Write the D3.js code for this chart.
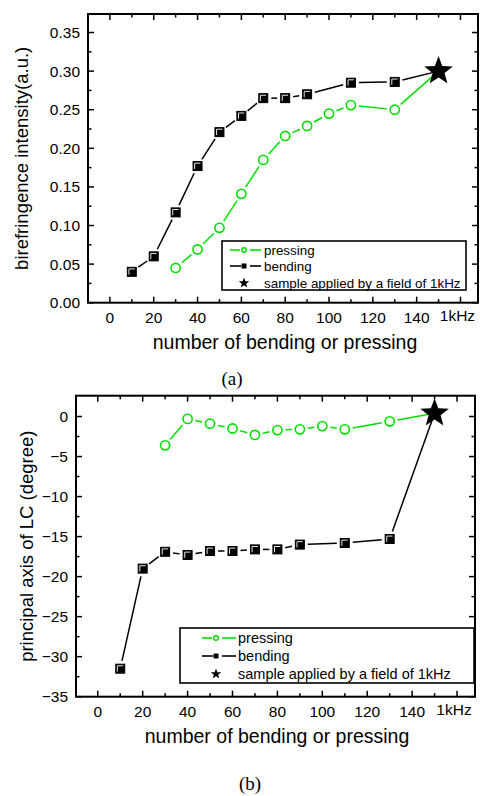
<!DOCTYPE html>
<html><head><meta charset="utf-8">
<script src="https://cdn.jsdelivr.net/npm/d3@7"></script>
<style>body{margin:0;background:#fff}svg{display:block}text{font-family:"Liberation Sans",Arial,sans-serif}</style>
</head><body>
<svg id="c" width="480" height="796"></svg>
<script>
// ---- data ----
const pressX_a = [30,40,50,60,70,80,90,100,110,130];
const pressY_a = [0.045,0.069,0.097,0.141,0.185,0.216,0.229,0.245,0.256,0.250];
const bendX_a  = [10,20,30,40,50,60,70,80,90,110,130];
const bendY_a  = [0.040,0.060,0.117,0.177,0.221,0.242,0.265,0.265,0.270,0.285,0.286];
const starX_a = 150, starY_a = 0.300;

const pressX_b = [30,40,50,60,70,80,90,100,110,130];
const pressY_b = [-3.6,-0.3,-0.9,-1.5,-2.3,-1.7,-1.6,-1.2,-1.6,-0.6];
const bendX_b  = [10,20,30,40,50,60,70,80,90,110,130];
const bendY_b  = [-31.5,-19.0,-16.9,-17.3,-16.8,-16.8,-16.6,-16.6,-16.0,-15.8,-15.3];
const starX_b = 150, starY_b = 0.4;

const xTickVals = [0,20,40,60,80,100,120,140,160];
const xTickLabels = ["0","20","40","60","80","100","120","140","1kHz"];
const yTicks_a = [0,0.05,0.10,0.15,0.20,0.25,0.30,0.35];
const yTicks_b = [0,-5,-10,-15,-20,-25,-30,-35];
const legendLabels = ["pressing","bending","sample applied by a field of 1kHz"];

const GREEN = "#00e000";
const svg = d3.select("#c");

function starPath(r){
  const pts=[];
  for(let i=0;i<10;i++){
    const a = -Math.PI/2 + i*Math.PI/5;
    const rr = i%2===0 ? r : r*0.42;
    pts.push([rr*Math.cos(a), rr*Math.sin(a)]);
  }
  return "M"+pts.map(p=>p[0].toFixed(2)+","+p[1].toFixed(2)).join("L")+"Z";
}

function drawSquare(g, x, y, s){
  g.append("rect").attr("x",x-s/2).attr("y",y-s/2).attr("width",s).attr("height",s)
    .attr("fill","#000").attr("stroke","#000").attr("stroke-width",1);
  const k = s/2-1.6;
  g.append("path").attr("d",`M${x-k},${y+k}V${y-k}H${x+k}`).attr("fill","none")
    .attr("stroke","#fff").attr("stroke-width",0.9);
}
function drawCircle(g, x, y, r){
  g.append("circle").attr("cx",x).attr("cy",y).attr("r",r).attr("fill","#fff")
    .attr("stroke",GREEN).attr("stroke-width",1.6);
}

function gappedLine(g, pts, color, gap, lastGap){
  for(let i=0;i<pts.length-1;i++){
    const [x0,y0]=pts[i], [x1,y1]=pts[i+1];
    const dx=x1-x0, dy=y1-y0, L=Math.hypot(dx,dy);
    const g0=gap, g1=(i===pts.length-2)?lastGap:gap;
    if(L<=g0+g1) continue;
    const ux=dx/L, uy=dy/L;
    g.append("line").attr("x1",x0+ux*g0).attr("y1",y0+uy*g0)
      .attr("x2",x1-ux*g1).attr("y2",y1-uy*g1)
      .attr("stroke",color).attr("stroke-width",1.5);
  }
}

function panel(cfg){
  const g = svg.append("g");
  const x = d3.scaleLinear().domain(cfg.xDom).range([cfg.left,cfg.right]);
  const y = d3.scaleLinear().domain(cfg.yDom).range([cfg.bottom,cfg.top]);

  // ticks (inward on all four sides)
  const xMinor = d3.range(10,170,20);
  const yMinor = cfg.yMinor;
  const tk = g.append("g").attr("stroke","#000").attr("stroke-width",1.5);
  xTickVals.forEach(v=>{
    if(x(v)>cfg.right-1) return;
    tk.append("line").attr("x1",x(v)).attr("x2",x(v)).attr("y1",cfg.bottom).attr("y2",cfg.bottom-6);
    tk.append("line").attr("x1",x(v)).attr("x2",x(v)).attr("y1",cfg.top).attr("y2",cfg.top+6);
  });
  xMinor.forEach(v=>{
    if(x(v)>cfg.right-1) return;
    tk.append("line").attr("x1",x(v)).attr("x2",x(v)).attr("y1",cfg.bottom).attr("y2",cfg.bottom-3.5);
    tk.append("line").attr("x1",x(v)).attr("x2",x(v)).attr("y1",cfg.top).attr("y2",cfg.top+3.5);
  });
  cfg.yTicks.forEach(v=>{
    tk.append("line").attr("x1",cfg.left).attr("x2",cfg.left+6).attr("y1",y(v)).attr("y2",y(v));
    tk.append("line").attr("x1",cfg.right).attr("x2",cfg.right-6).attr("y1",y(v)).attr("y2",y(v));
  });
  yMinor.forEach(v=>{
    tk.append("line").attr("x1",cfg.left).attr("x2",cfg.left+3.5).attr("y1",y(v)).attr("y2",y(v));
    tk.append("line").attr("x1",cfg.right).attr("x2",cfg.right-3.5).attr("y1",y(v)).attr("y2",y(v));
  });
  g.append("rect").attr("x",cfg.left).attr("y",cfg.top).attr("width",cfg.right-cfg.left)
    .attr("height",cfg.bottom-cfg.top).attr("fill","none").attr("stroke","#000").attr("stroke-width",2);

  // tick labels
  xTickVals.forEach((v,i)=>{
    const last = i===xTickVals.length-1;
    g.append("text").attr("x",x(v)-(last?3:0)).attr("y",cfg.bottom+(last?18:20)).attr("text-anchor","middle")
      .attr("font-size",15.5).text(xTickLabels[i]);
  });
  cfg.yTicks.forEach(v=>{
    g.append("text").attr("x",cfg.left-8).attr("y",y(v)+5.5).attr("text-anchor","end")
      .attr("font-size",15.5).text(cfg.yFmt(v));
  });

  // titles
  g.append("text").attr("x",cfg.xTitleX).attr("y",cfg.bottom+46).attr("text-anchor","middle")
    .attr("font-size",19.5).text("number of bending or pressing");
  g.append("text").attr("transform",`translate(${cfg.yTitleX},${(cfg.top+cfg.bottom)/2}) rotate(-90)`)
    .attr("text-anchor","middle").attr("font-size",18.5).text(cfg.yTitle);

  // series
  const bp = cfg.bx.map((v,i)=>[x(v),y(cfg.by[i])]);
  const pp = cfg.px.map((v,i)=>[x(v),y(cfg.py[i])]);
  const sp = [x(cfg.sx),y(cfg.sy)];
  gappedLine(g, pp.concat([sp]), GREEN, 8, 0);
  gappedLine(g, bp.concat([sp]), "#000", 8, 0);
  bp.forEach(p=>drawSquare(g,p[0],p[1],9));
  pp.forEach(p=>drawCircle(g,p[0],p[1],4.6));
  g.append("path").attr("d",starPath(15)).attr("transform",`translate(${sp[0]},${sp[1]})`).attr("fill","#000");

  // legend
  const L = cfg.leg;
  g.append("rect").attr("x",L.x0).attr("y",L.y0).attr("width",L.x1-L.x0).attr("height",L.y1-L.y0)
    .attr("fill","#fff").attr("stroke","#000").attr("stroke-width",1.6);
  const rows = L.rows;
  // pressing sample
  g.append("line").attr("x1",L.lx0).attr("x2",L.mx-4).attr("y1",rows[0]).attr("y2",rows[0]).attr("stroke",GREEN).attr("stroke-width",1.6);
  g.append("line").attr("x1",L.mx+6).attr("x2",L.lx1).attr("y1",rows[0]).attr("y2",rows[0]).attr("stroke",GREEN).attr("stroke-width",1.6);
  g.append("circle").attr("cx",L.mx).attr("cy",rows[0]).attr("r",2.3).attr("fill","#fff").attr("stroke",GREEN).attr("stroke-width",1.4);
  // bending sample
  g.append("line").attr("x1",L.lx0).attr("x2",L.mx-3).attr("y1",rows[1]).attr("y2",rows[1]).attr("stroke","#000").attr("stroke-width",1.6);
  g.append("line").attr("x1",L.mx+6).attr("x2",L.lx1).attr("y1",rows[1]).attr("y2",rows[1]).attr("stroke","#000").attr("stroke-width",1.6);
  g.append("rect").attr("x",L.mx-2.5).attr("y",rows[1]-2.5).attr("width",5).attr("height",5).attr("fill","#000");
  // star sample
  g.append("path").attr("d",starPath(5.5)).attr("transform",`translate(${L.mx},${rows[2]})`).attr("fill","#000");
  legendLabels.forEach((t,i)=>{
    g.append("text").attr("x",L.tx).attr("y",rows[i]+5).attr("font-size",L.fs).text(t);
  });

  g.append("text").attr("x",cfg.capX).attr("y",cfg.capY).attr("text-anchor","middle")
    .style("font-family",'"Liberation Serif","Times New Roman",serif').attr("font-size",19).text(cfg.cap);
}

panel({
  left:88,right:478,top:14,bottom:302.7,xDom:[-10,168],yDom:[0,0.374],
  yTicks:yTicks_a, yMinor:d3.range(0.025,0.37,0.05), yFmt:d3.format(".2f"),
  yTitle:"birefringence intensity(a.u.)", yTitleX:28, xTitleX:285,
  bx:bendX_a,by:bendY_a,px:pressX_a,py:pressY_a,sx:starX_a,sy:starY_a,
  leg:{x0:222,x1:466,y0:241,y1:290,rows:[250,266,283],lx0:230,lx1:261,mx:244,tx:264,fs:13.4},
  cap:"(a)",capX:232,capY:385
});
panel({
  left:76,right:475,top:395.7,bottom:696.7,xDom:[-9.7,168],yDom:[-35,2.6],
  yTicks:yTicks_b, yMinor:d3.range(-32.5,2,5), yFmt:d3.format("d"),
  yTitle:"principal axis of LC (degree)", yTitleX:33, xTitleX:277,
  bx:bendX_b,by:bendY_b,px:pressX_b,py:pressY_b,sx:starX_b,sy:starY_b,
  leg:{x0:180,x1:474,y0:628,y1:683,rows:[638,656,674],lx0:202,lx1:236,mx:216,tx:238,fs:14.5},
  cap:"(b)",capX:250,capY:790
});
</script>
</body></html>
